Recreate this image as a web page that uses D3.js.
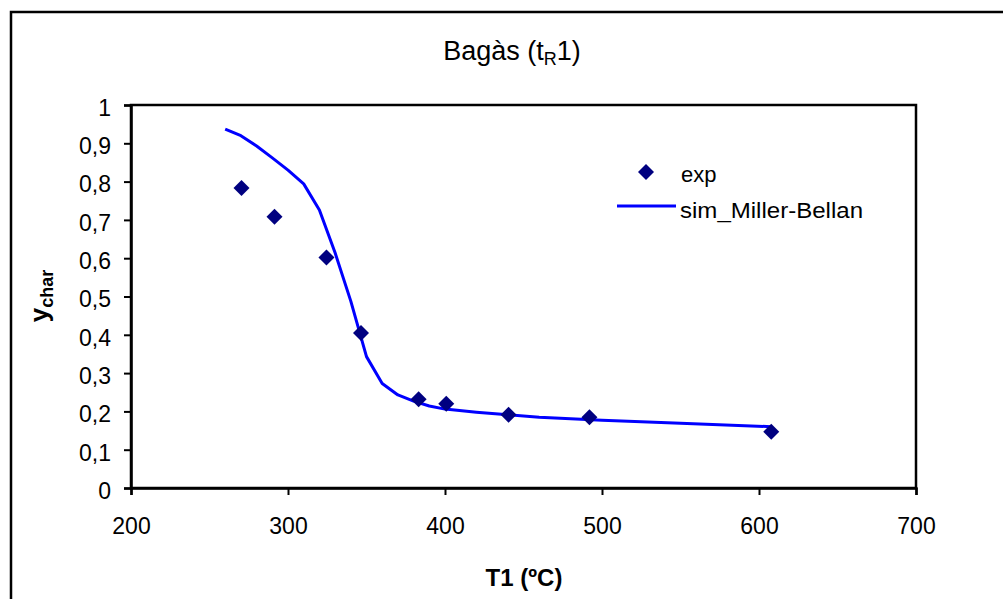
<!DOCTYPE html>
<html>
<head>
<meta charset="utf-8">
<script src="https://cdn.jsdelivr.net/npm/d3@7"></script>
<style>
  body { margin: 0; background: #fff; }
  text { font-family: "Liberation Sans", Arial, sans-serif; fill: #000; }
</style>
</head>
<body>
<div id="chart"></div>
<script>
// experimental points
var expT = [270.4, 291.4, 324.5, 346.5, 383.2, 400.8, 440.5, 492, 607.8];
var expY = [0.783, 0.708, 0.602, 0.405, 0.232, 0.220, 0.191, 0.185, 0.147];

// simulation (Miller-Bellan)
var simT = [260, 270, 280, 290, 300, 310, 320, 330, 340, 350, 360, 370, 380, 390, 400, 420, 440, 460, 500, 550, 608];
var simY = [0.937, 0.920, 0.893, 0.862, 0.830, 0.794, 0.726, 0.614, 0.488, 0.343, 0.273, 0.243, 0.227, 0.214, 0.206, 0.198, 0.191, 0.185, 0.177, 0.169, 0.160];

var xTicks = [200, 300, 400, 500, 600, 700];
var yTicks = [0, 0.1, 0.2, 0.3, 0.4, 0.5, 0.6, 0.7, 0.8, 0.9, 1];

var width = 1003;
var height = 599;
var margin = ({ top: 105, right: 87, bottom: 111, left: 131 });

var svg = d3.select("#chart").append("svg")
  .attr("width", width)
  .attr("height", height);

// outer chart frame
svg.append("rect")
  .attr("x", 11).attr("y", 12)
  .attr("width", 1010).attr("height", 620)
  .attr("fill", "none")
  .attr("stroke", "#000")
  .attr("stroke-width", 2.5);

var xScale = d3.scaleLinear()
  .domain([200, 700])
  .range([margin.left, width - margin.right]);

var yScale = d3.scaleLinear()
  .domain([0, 1])
  .range([height - margin.bottom, margin.top]);

var fmt = d => d3.format(".1f")(d).replace(".", ",").replace(/^0,0$/, "0").replace(/^1,0$/, "1");

// plot area box
svg.append("rect")
  .attr("x", xScale(200)).attr("y", yScale(1))
  .attr("width", xScale(700) - xScale(200))
  .attr("height", yScale(0) - yScale(1))
  .attr("fill", "none")
  .attr("stroke", "#000")
  .attr("stroke-width", 2.5);

/* Axes */
var xAxis = d3.axisBottom(xScale).tickValues(xTicks).tickSize(7).tickPadding(23).tickFormat(d3.format("d"));
var yAxis = d3.axisLeft(yScale).tickValues(yTicks).tickSize(7).tickPadding(13).tickFormat(fmt);

var gx = svg.append("g").attr("transform", `translate(0,${yScale(0)})`).call(xAxis);
var gy = svg.append("g").attr("transform", `translate(${xScale(200)},0)`).call(yAxis);

[gx, gy].forEach(function (g) {
  g.select(".domain").attr("stroke", "#000").attr("stroke-width", 2.5);
  g.selectAll(".tick line").attr("stroke", "#000").attr("stroke-width", 2);
  g.selectAll(".tick text")
    .style("font-family", "'Liberation Sans', Arial, sans-serif")
    .style("font-size", "23px")
    .attr("fill", "#000");
});
gy.selectAll(".tick text").attr("dy", "0.45em");

/* Simulation line */
var simData = simT.map((t, i) => ({ t: t, v: simY[i] }));
var line = d3.line()
  .x(d => xScale(d.t))
  .y(d => yScale(d.v));

svg.append("path")
  .datum(simData)
  .attr("d", line)
  .attr("fill", "none")
  .attr("stroke", "#0000ff")
  .attr("stroke-width", 3)
  .attr("stroke-linejoin", "round");

/* Experimental diamonds */
var diamond = d3.symbol().type(d3.symbolSquare).size(128);
var expData = expT.map((t, i) => ({ t: t, v: expY[i] }));

svg.append("g")
  .selectAll("path")
  .data(expData)
  .join("path")
  .attr("d", diamond)
  .attr("transform", d => `translate(${xScale(d.t)},${yScale(d.v)}) rotate(45)`)
  .attr("fill", "#000080");

/* Title */
var title = svg.append("text")
  .attr("x", 512)
  .attr("y", 60)
  .attr("text-anchor", "middle")
  .style("font-size", "27px");
title.append("tspan").text("Bagàs (t");
title.append("tspan").text("R").attr("dy", 5).style("font-size", "18px");
title.append("tspan").text("1)").attr("dy", -5);

/* Axis titles */
svg.append("text")
  .attr("x", 524)
  .attr("y", 586)
  .attr("text-anchor", "middle")
  .style("font-size", "24px")
  .style("font-weight", "bold")
  .text("T1 (ºC)");

var yt = svg.append("text")
  .attr("transform", "translate(48,296) rotate(-90)")
  .attr("text-anchor", "middle")
  .style("font-weight", "bold");
yt.append("tspan").text("y").style("font-size", "26px");
yt.append("tspan").text("char").attr("dy", 5).style("font-size", "18px");

/* Legend */
var legend = svg.append("g");
legend.append("path")
  .attr("d", diamond)
  .attr("transform", "translate(646,172) rotate(45)")
  .attr("fill", "#000080");
legend.append("text")
  .attr("x", 681).attr("y", 182)
  .style("font-size", "22px")
  .text("exp");
legend.append("line")
  .attr("x1", 617).attr("x2", 676)
  .attr("y1", 206).attr("y2", 206)
  .attr("stroke", "#0000ff")
  .attr("stroke-width", 3);
legend.append("text")
  .attr("x", 680).attr("y", 218)
  .attr("textLength", 183)
  .attr("lengthAdjust", "spacingAndGlyphs")
  .style("font-size", "22px")
  .text("sim_Miller-Bellan");
</script>
</body>
</html>
